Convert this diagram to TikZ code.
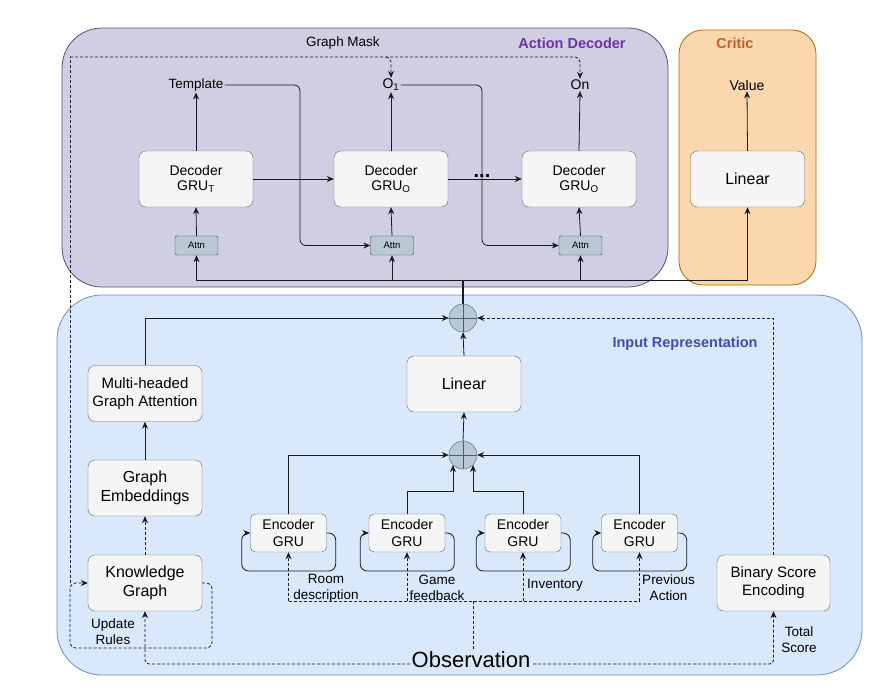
\documentclass[tikz,border=0pt]{standalone}
\usepackage{fontspec}
\setmainfont{Liberation Sans}
\usetikzlibrary{arrows.meta}
\definecolor{adfill}{HTML}{D0CEE2}
\definecolor{adline}{HTML}{56517E}
\definecolor{crfill}{HTML}{FAD7AC}
\definecolor{crline}{HTML}{B46504}
\definecolor{irfill}{HTML}{DAE8FC}
\definecolor{irline}{HTML}{6C8EBF}
\definecolor{boxfill}{HTML}{F5F5F5}
\definecolor{boxline}{HTML}{666666}
\definecolor{attfill}{HTML}{BAC8D3}
\definecolor{attline}{HTML}{23445D}
\definecolor{adtitle}{HTML}{7030A8}
\definecolor{crtitle}{HTML}{C0622B}
\definecolor{irtitle}{HTML}{4549B5}
\definecolor{ink}{HTML}{1A1A1A}
\tikzset{
 panel/.style={rounded corners=40, line width=0.8},
 blk/.style={draw=boxline, fill=boxfill, rounded corners=7, minimum width=114, minimum height=56, align=center, inner sep=0, font=\fontsize{16}{19}\selectfont},
 dec/.style={blk, font=\fontsize{14}{15.5}\selectfont},
 enc/.style={blk, minimum width=76, minimum height=38, rounded corners=5, font=\fontsize{14}{16.5}\selectfont},
 attnbox/.style={draw=attline, fill=attfill, rounded corners=2, minimum width=43, minimum height=19, inner sep=0, font=\fontsize{9.5}{10}\selectfont},
 sumnode/.style={circle, draw=attline!85, fill=attfill, minimum size=28, inner sep=0},
 tip/.style={-{Stealth[length=7,width=6]}},
 arr/.style={tip, line width=0.8, draw=ink},
 ln/.style={line width=0.8, draw=ink},
 dsh/.style={dash pattern=on 3 off 2, line width=0.8, draw=ink},
 lbl/.style={font=\fontsize{13.5}{16}\selectfont, align=center, inner sep=1},
 ttl/.style={font=\bfseries\fontsize{14.5}{16}\selectfont, inner sep=0},
}
\begin{document}
\begin{tikzpicture}[x=1pt,y=-1pt]
\useasboundingbox (0,0) rectangle (872,696);
% panels
\draw[panel, draw=adline, fill=adfill] (62,28) rectangle (668,287);
\draw[panel, rounded corners=24, draw=crline, fill=crfill] (679,30) rectangle (816,285);
\draw[panel, rounded corners=45, draw=irline, fill=irfill] (57,295) rectangle (862,675);
% titles
\node[ttl, text=adtitle] (tad) at (572,43) {Action Decoder};
\node[ttl, text=crtitle] (tcr) at (735,43) {Critic};
\node[ttl, text=irtitle] (tir) at (685,344) {Input Representation};
\node[lbl, inner sep=0] (gm) at (343,43) {Graph Mask};
% action decoder
\node[dec] (d1) at (196,179) {Decoder\\GRU\textsubscript{T}};
\node[dec] (d2) at (391,179) {Decoder\\GRU\textsubscript{O}};
\node[dec] (d3) at (579,179) {Decoder\\GRU\textsubscript{O}};
\node[attnbox] (at1) at (196.5,245.5) {Attn};
\node[attnbox] (at2) at (392,245.5) {Attn};
\node[attnbox] (at3) at (580.5,245.5) {Attn};
\node[lbl, font=\fontsize{13.5}{15}\selectfont] (tmpl) at (196,85) {Template};
\node[lbl, font=\fontsize{14}{15}\selectfont] (o1) at (391,85) {O\textsubscript{1}};
\node[lbl, font=\fontsize{14}{15}\selectfont] (on) at (580,85) {On};
\node[font=\bfseries\fontsize{20}{20}\selectfont, inner sep=0, anchor=base] (dots) at (482,177) {...};
% critic
\node[blk] (clin) at (747.5,179) {Linear};
\node[lbl, font=\fontsize{14}{15}\selectfont] (val) at (747,85) {Value};
% input representation
\node[sumnode] (stop) at (463,318) {};
\node[sumnode] (sbot) at (463,455) {};
\draw[attline!85, line width=0.7] (stop.north) -- (stop.south) (stop.west) -- (stop.east);
\draw[attline!85, line width=0.7] (sbot.north) -- (sbot.south) (sbot.west) -- (sbot.east);
\node[blk] (lin) at (464,384) {Linear};
\node[blk, font=\fontsize{15}{17.5}\selectfont] (mga) at (145,393.5) {Multi-headed\\Graph Attention};
\node[blk] (ge) at (145,488) {Graph\\Embeddings};
\node[blk] (kg) at (145,583) {Knowledge\\Graph};
\node[blk, minimum width=113, font=\fontsize{15}{18}\selectfont] (bse) at (773.5,583) {Binary Score\\Encoding};
\node[enc] (e1) at (288.5,533) {Encoder\\GRU};
\node[enc] (e2) at (407,533) {Encoder\\GRU};
\node[enc] (e3) at (523,533) {Encoder\\GRU};
\node[enc] (e4) at (639.5,533) {Encoder\\GRU};
\node[lbl] (lroom) at (326,588) {Room\\description};
\node[lbl] (lgame) at (437,588) {Game\\feedback};
\node[lbl] (linv) at (555,585) {Inventory};
\node[lbl] (lprev) at (668.5,588) {Previous\\Action};
\node[lbl] (ltot) at (799,640) {Total\\Score};
\node[lbl] (lupd) at (113,632) {Update\\Rules};
\node[font=\fontsize{22}{24}\selectfont, inner sep=0, anchor=base] (obs) at (471,667) {Observation};
% decoder connectors
\draw[arr] (d1.east) -- (d2.west);
\draw[arr] (d2.east) -- (d3.west);
\draw[arr] (d1.north) -- (tmpl.south);
\draw[arr] (d2.north) -- (o1.south);
\draw[arr] (d3.north) -- (on.south);
\draw[arr] (at1.north) -- (d1.south);
\draw[arr] (at2.north) -- (d2.south);
\draw[arr] (at3.north) -- (d3.south);
\draw[arr, rounded corners=6] (tmpl.east) -- (300,85) -- (300,245.5) -- (at2.west);
\draw[arr, rounded corners=6] (o1.east) -- (482,85) -- (482,245.5) -- (at3.west);
\draw[arr] (clin.north) -- (val.south);
% junction
\coordinate (jn) at (463,280);
\draw[ln, line width=1.6] (stop.north) -- (jn);
\draw[arr] (jn) -| (at1.south);
\draw[arr] (jn) -| (at2.south);
\draw[arr] (jn) -| (at3.south);
\draw[arr] (jn) -| (clin.south);
% input connectors
\draw[arr] (lin.north) -- (stop.south);
\draw[arr] (sbot.north) -- (lin.south);
\draw[arr] (mga.north) |- (stop.west);
\draw[dsh, tip] (bse.north) |- (stop.east);
\draw[arr] (ge.north) -- (mga.south);
\draw[dsh, tip] (kg.north) -- (ge.south);
\draw[arr] (e1.north) |- (sbot.west);
\draw[arr] (e4.north) |- (sbot.east);
\draw[arr] (e2.north) -- ++(0,-22) -| (sbot.south west);
\draw[arr] (e3.north) -- ++(0,-22) -| (sbot.south east);
% encoder self loops
\foreach \e in {e1,e2,e3,e4}{
  \draw[arr, rounded corners=7] (\e.east) -- ++(9,0) -- ++(0,38) -- ++(-94,0) -- ++(0,-38) -- (\e.west);
}
% observation
\coordinate (obsj) at (473,601);
\draw[dsh] (e1.south |- obsj) -- (e4.south |- obsj);
\foreach \e in {e1,e2,e3,e4}{
  \draw[dsh, tip] (\e.south |- obsj) -- (\e.south);
}
\draw[dsh] (obsj) -- (473,650);
\coordinate (oL) at (410,664);
\coordinate (oR) at (533,664);
\draw[dsh, tip, rounded corners=4] (oL) -| (kg.south);
\draw[dsh, tip, rounded corners=4] (oR) -| (bse.south);
% update rules loop and graph mask
\coordinate (gm1) at (70,57);
\draw[dsh, tip, rounded corners=6] (kg.east) -- (212,583) -- (212,648) -- (70,648) -- (70,583) -- (kg.west);
\draw[dsh, rounded corners=6] (70,583) -- (gm1);
\draw[dsh, tip, rounded corners=5] (gm1) -| (on.north);
\draw[dsh, tip, rounded corners=5] (386,57) -| (o1.north);
\end{tikzpicture}
\end{document}
